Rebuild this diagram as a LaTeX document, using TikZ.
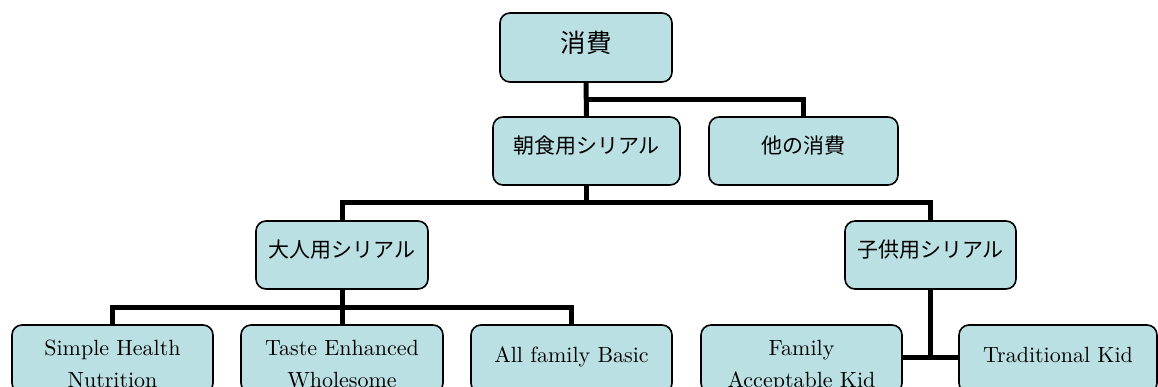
\documentclass[tikz,border=0pt]{standalone}
\usepackage{fontspec}
\newfontfamily\jp{Noto Sans CJK JP}
\newfontfamily\en{lmroman10-regular.otf}
\usetikzlibrary{backgrounds}
\definecolor{boxfill}{RGB}{187,224,227}
\begin{document}
\begin{tikzpicture}[x=1pt,y=-1pt,
  box/.style={draw=black, line width=1.6pt, fill=boxfill, rounded corners=10pt, inner sep=0pt, align=center, minimum height=68pt},
  jptext/.style={font=\jp\fontsize{21}{25}\selectfont, text height=14pt, text depth=8pt},
  toptext/.style={font=\jp\fontsize{25.5}{30}\selectfont, text height=18pt, text depth=8pt},
  entext/.style={font=\en\fontsize{22}{32}\selectfont, text height=14pt, text depth=8pt},
  entwo/.style={font=\en\fontsize{22}{32}\selectfont, text height=8pt, text depth=14.6pt},
  conn/.style={line width=5pt, line join=miter, draw=black}]
\useasboundingbox (0,0) rectangle (1158,387);
\clip (0,0) rectangle (1158,387);

\node[box,toptext,minimum width=172pt,minimum height=69pt] (top) at (586,47.5) {消費};
\node[box,jptext,minimum width=187pt] (cereal) at (586.5,151) {朝食用シリアル};
\node[box,jptext,minimum width=189pt] (other) at (803.5,151) {他の消費};
\node[box,jptext,minimum width=172pt] (adult) at (342,255) {大人用シリアル};
\node[box,jptext,minimum width=171pt] (kid) at (930.5,255) {子供用シリアル};

\node[box,entwo,minimum width=201pt] (shn) at (112.5,359) {\begin{tabular}[t]{@{}c@{}}Simple Health\\Nutrition\end{tabular}};
\node[box,entwo,minimum width=202pt] (te) at (342,359) {\begin{tabular}[t]{@{}c@{}}Taste Enhanced\\Wholesome\end{tabular}};
\node[box,entext,minimum width=201pt] (afb) at (571.5,359) {All family Basic};
\node[box,entwo,minimum width=201pt] (fak) at (801.5,359) {\begin{tabular}[t]{@{}c@{}}Family\\Acceptable Kid\end{tabular}};
\node[box,entext,minimum width=198pt] (tk) at (1058,359) {Traditional Kid};

\coordinate (j1) at (586,100);
\coordinate (j2) at (586.5,203);
\coordinate (j3) at (342,307);
\coordinate (j4) at (930.5,357);

\begin{pgfonlayer}{background}
\draw[conn] (top.south) -- (cereal.north);
\draw[conn] (top.south |- j1) -| (other.north);
\draw[conn] (cereal.south) -- (j2);
\draw[conn] (adult.north) |- (j2) -| (kid.north);
\draw[conn] (adult.south) -- (te.north);
\draw[conn] (shn.north) |- (j3) -| (afb.north);
\draw[conn] (kid.south) -- (j4);
\draw[conn] (fak.east |- j4) -- (tk.west |- j4);
\end{pgfonlayer}
\end{tikzpicture}
\end{document}
